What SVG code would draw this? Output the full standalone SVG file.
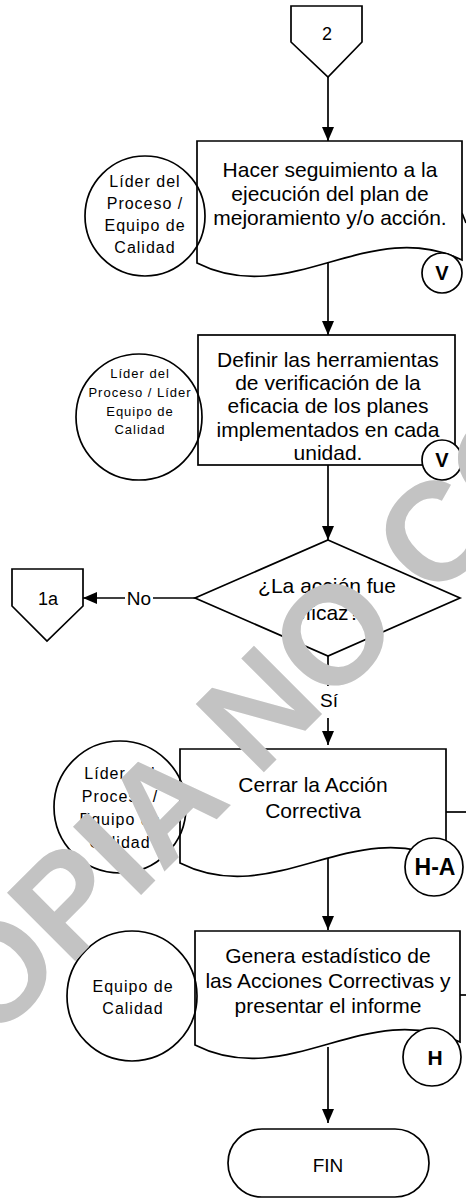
<svg xmlns="http://www.w3.org/2000/svg" width="466" height="1199" viewBox="0 0 466 1199">
<defs>
<marker id="arr" markerUnits="userSpaceOnUse" markerWidth="14" markerHeight="12" refX="14" refY="6" orient="auto">
<path d="M0,0 L14,6 L0,12 z" fill="#000"/>
</marker>
<style>
.sh{fill:#fff;stroke:#000;stroke-width:1.7}
.rc{fill:none;stroke:#000;stroke-width:1.7}
.bd{fill:#fff;stroke:#000;stroke-width:1.7}
.ln{fill:none;stroke:#000;stroke-width:1.7}
.t{font-family:"Liberation Sans",Arial,sans-serif;font-size:21px;fill:#000;text-anchor:middle}
.r{font-family:"Liberation Sans",Arial,sans-serif;font-size:16px;letter-spacing:1px;fill:#000;text-anchor:middle}
.r2{font-family:"Liberation Sans",Arial,sans-serif;font-size:13px;letter-spacing:1px;fill:#000;text-anchor:middle}
.b{font-family:"Liberation Sans",Arial,sans-serif;font-weight:bold;fill:#000;text-anchor:middle}
.l{font-family:"Liberation Sans",Arial,sans-serif;font-size:19px;fill:#000;text-anchor:middle}
.wm{font-family:"Liberation Sans",Arial,sans-serif;font-weight:bold;font-size:140px;fill:#c3c3c3}
</style>
</defs>

<g id="connectors">
<line class="ln" x1="328" y1="77" x2="328" y2="141" marker-end="url(#arr)"/>
<line class="ln" x1="328" y1="263" x2="328" y2="335" marker-end="url(#arr)"/>
<line class="ln" x1="328" y1="465" x2="328" y2="540" marker-end="url(#arr)"/>
<line class="ln" x1="195" y1="598" x2="153" y2="598"/>
<line class="ln" x1="125" y1="598" x2="83" y2="598" marker-end="url(#arr)"/>
<text class="l" x="139" y="605">No</text>
<line class="ln" x1="328" y1="656" x2="328" y2="686"/>
<line class="ln" x1="328" y1="718" x2="328" y2="745" marker-end="url(#arr)"/>
<text class="l" x="329" y="707">Sí</text>
<line class="ln" x1="328" y1="858" x2="328" y2="930" marker-end="url(#arr)"/>
<line class="ln" x1="328" y1="1047" x2="328" y2="1123" marker-end="url(#arr)"/>
<line class="ln" x1="462" y1="213" x2="466" y2="223"/>
<line class="ln" x1="446" y1="812" x2="466" y2="812"/>
<line class="ln" x1="460" y1="995" x2="466" y2="995"/>
</g>

<g id="off2">
<path class="sh" d="M291,6 L362,6 L362,42 L328,77 L291,42 z"/>
<text class="t" x="327" y="40" style="font-size:18px">2</text>
</g>

<g id="task1">
<path class="sh" d="M197,141 L462,141 L462,260 C369,215 290,310 197,263 z"/>
<text class="t" x="330" y="177">Hacer seguimiento a la</text>
<text class="t" x="330" y="201">ejecución del plan de</text>
<text class="t" x="330" y="225">mejoramiento y/o acción.</text>
</g>
<g id="role1">
<circle class="rc" cx="145" cy="216" r="60"/>
<text class="r" x="145" y="187">Líder del</text>
<text class="r" x="145" y="209">Proceso /</text>
<text class="r" x="145" y="231">Equipo de</text>
<text class="r" x="145" y="253">Calidad</text>
</g>
<g id="badge1">
<circle class="bd" cx="442" cy="273" r="20"/>
<text class="b" x="442" y="280" style="font-size:20px">V</text>
</g>

<g id="task2">
<rect class="sh" x="198" y="335" width="257" height="130"/>
<text class="t" x="328" y="367">Definir las herramientas</text>
<text class="t" x="328" y="390">de verificación de la</text>
<text class="t" x="328" y="413">eficacia de los planes</text>
<text class="t" x="328" y="437">implementados en cada</text>
<text class="t" x="328" y="460">unidad.</text>
</g>
<g id="role2">
<circle class="rc" cx="139" cy="417" r="63"/>
<text class="r2" x="140" y="378">Líder del</text>
<text class="r2" x="140" y="397">Proceso / Líder</text>
<text class="r2" x="140" y="416">Equipo de</text>
<text class="r2" x="140" y="434">Calidad</text>
</g>
<g id="badge2">
<circle class="bd" cx="442" cy="460" r="20"/>
<text class="b" x="442" y="467" style="font-size:20px">V</text>
</g>

<g id="decision">
<path class="sh" d="M328,540 L460,598 L328,656 L195,598 z"/>
<text class="t" x="327" y="593">¿La acción fue</text>
<text class="t" x="327" y="620">eficaz?</text>
</g>

<g id="off1a">
<path class="sh" d="M12,569 L83,569 L83,606 L47,641 L12,606 z"/>
<text class="t" x="48" y="605" style="font-size:18px">1a</text>
</g>

<g id="task3">
<path class="sh" d="M180,749 L446,749 L446,860 C353,815 273,910 180,863 z"/>
<text class="t" x="313" y="792">Cerrar la Acción</text>
<text class="t" x="313" y="818">Correctiva</text>
</g>
<g id="role3">
<circle class="rc" cx="120" cy="807" r="66"/>
<text class="r" x="120" y="779">Líder del</text>
<text class="r" x="120" y="802">Proceso /</text>
<text class="r" x="120" y="825">Equipo de</text>
<text class="r" x="120" y="848">Calidad</text>
</g>
<g id="badge3">
<circle class="bd" cx="434" cy="867" r="29"/>
<text class="b" x="435" y="875" style="font-size:23px">H-A</text>
</g>

<g id="task4">
<path class="sh" d="M195,931 L460,931 L460,1042 C367,997 288,1092 195,1045 z"/>
<text class="t" x="328" y="963">Genera estadístico de</text>
<text class="t" x="328" y="988">las Acciones Correctivas y</text>
<text class="t" x="328" y="1013">presentar el informe</text>
</g>
<g id="role4">
<circle class="rc" cx="132" cy="996" r="65"/>
<text class="r" x="133" y="992">Equipo de</text>
<text class="r" x="133" y="1014">Calidad</text>
</g>
<g id="badge4">
<circle class="bd" cx="432" cy="1057" r="29"/>
<text class="b" x="435" y="1065" style="font-size:21px">H</text>
</g>

<g id="fin">
<rect class="sh" x="228" y="1129" width="201" height="68" rx="34"/>
<text class="t" x="328" y="1172" style="font-size:19px">FIN</text>
</g>

<g id="watermark">
<text class="wm" x="-80" y="1116" transform="rotate(-45 -80 1116)">COPIA NO CONTROLADA</text>
</g>
</svg>
